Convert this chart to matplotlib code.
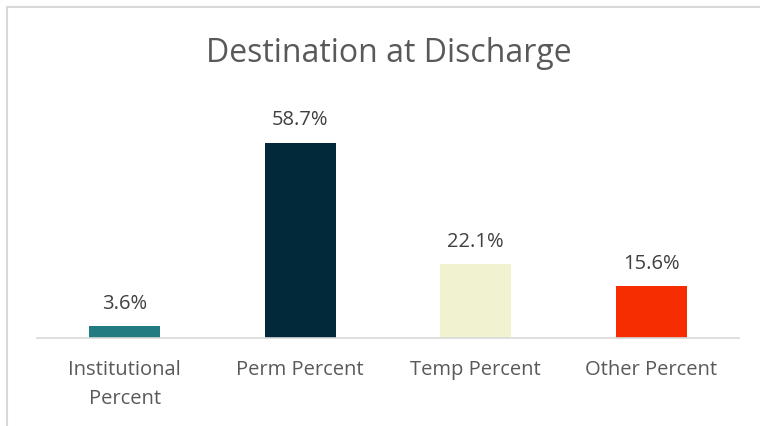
import matplotlib.pyplot as plt
from matplotlib.lines import Line2D

categories = ["Institutional\nPercent", "Perm Percent", "Temp Percent", "Other Percent"]
values = [3.6, 58.7, 22.1, 15.6]
bar_colors = ["#217b80", "#02293a", "#f0f2d0", "#f52d00"]
title = "Destination at Discharge"

FONT = ["Open Sans", "DejaVu Sans"]


def main() -> None:
    fig = plt.figure(figsize=(7.6, 4.26), dpi=100)
    ax = fig.add_axes([0.0487, 0.2066, 0.9237, 0.5469])

    x = range(len(categories))
    bars = ax.bar(x, values, width=0.405, color=bar_colors)
    ax.set_xlim(-0.5, len(categories) - 0.5)
    ax.set_ylim(0, 70)

    for rect, v in zip(bars, values):
        ax.annotate(f"{v:.1f}%", (rect.get_x() + rect.get_width() / 2, v),
                    xytext=(0, 9), textcoords="offset points",
                    ha="center", va="bottom", fontsize=14.5, color="#404040",
                    family=FONT)

    ax.set_xticks(list(x))
    ax.set_xticklabels(categories, fontsize=14.5, color="#595959", family=FONT,
                       linespacing=1.6)
    ax.tick_params(axis="x", length=0, pad=16)
    ax.set_yticks([])
    for side in ("left", "right", "top"):
        ax.spines[side].set_visible(False)
    ax.spines["bottom"].set_color("#d9d9d9")
    ax.spines["bottom"].set_linewidth(1.2)

    fig.text(0.511, 0.875, title, ha="center", va="center", fontsize=23,
             color="#595959", family=FONT)

    # chart frame (only top and left edges show in the crop)
    fig.add_artist(Line2D([6.5 / 760, 1.0], [1 - 6.5 / 426, 1 - 6.5 / 426],
                          transform=fig.transFigure, color="#d9d9d9", lw=1.5))
    fig.add_artist(Line2D([6.5 / 760, 6.5 / 760], [0.0, 1 - 6.5 / 426],
                          transform=fig.transFigure, color="#d9d9d9", lw=1.5))

    fig.savefig("out.png", dpi=100)
    plt.close(fig)


if __name__ == "__main__":
    main()
